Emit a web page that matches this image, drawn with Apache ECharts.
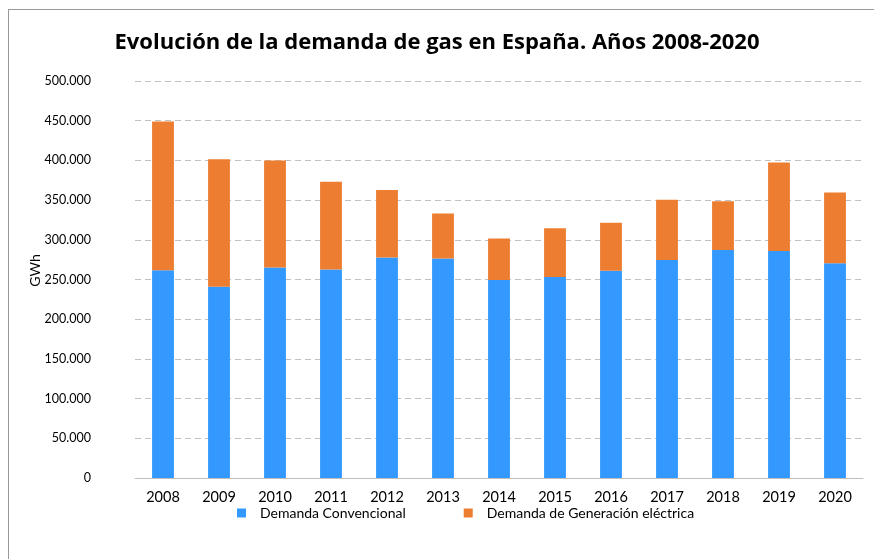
<!DOCTYPE html>
<html>
<head>
<meta charset="utf-8">
<script src="https://cdn.jsdelivr.net/npm/echarts@6/dist/echarts.min.js"></script>
<style>
html,body{margin:0;padding:0;background:#fff;}
#wrap{position:absolute;left:0;top:0;width:874px;height:559px;overflow:hidden;}
#frame{position:absolute;left:8px;top:9px;width:900px;height:600px;border-left:1px solid #999;border-top:1px solid #999;}
#chart{position:absolute;left:0;top:0;width:874px;height:559px;}
</style>
</head>
<body>
<div id="wrap"><div id="frame"></div><div id="chart"></div></div>
<script>
const years = ['2008','2009','2010','2011','2012','2013','2014','2015','2016','2017','2018','2019','2020'];
const totals = [449000, 401600, 400000, 373000, 362600, 333000, 301600, 314400, 321500, 350400, 348700, 397500, 359700];
const convencional = [261700, 241000, 265000, 262600, 277700, 276500, 249300, 253000, 261000, 274700, 287300, 286000, 270500];
const generacion = totals.map((t, i) => t - convencional[i]);
const seriesNames = ['Demanda Convencional', 'Demanda de Generación eléctrica'];
const titleText = 'Evolución de la demanda de gas en España. Años 2008-2020';

const font = 'Lato, "Open Sans", sans-serif';
const chart = echarts.init(document.getElementById('chart'));
chart.setOption({
  animation: false,
  backgroundColor: 'transparent',
  title: {
    text: titleText, left: 'center', top: 27,
    textStyle: {fontFamily: '"Open Sans", sans-serif', fontSize: 22, fontWeight: 'bold', color: '#000'}
  },
  legend: {
    bottom: 34, left: 232, itemWidth: 9, itemHeight: 9, itemGap: 58, icon: 'rect',
    textStyle: {fontFamily: font, fontSize: 14, color: '#000', padding: [0, 0, 0, 9]},
    data: seriesNames
  },
  grid: {left: 135, right: 11, top: 81, bottom: 81},
  xAxis: {
    type: 'category', data: years,
    axisTick: {show: false},
    axisLine: {lineStyle: {color: '#bfbfbf', width: 1}},
    axisLabel: {fontFamily: font, fontSize: 14.5, color: '#000', margin: 12}
  },
  yAxis: {
    type: 'value', min: 0, max: 500000, interval: 50000,
    name: 'GWh', nameLocation: 'middle', nameGap: 93, nameRotate: 90, nameMoveOverlap: false,
    nameTextStyle: {fontFamily: font, fontSize: 14, color: '#000', padding: [0, 0, 0, 18]},
    axisLine: {show: false}, axisTick: {show: false},
    axisLabel: {
      fontFamily: font, fontSize: 12.5, color: '#000', margin: 44,
      formatter: v => v === 0 ? '0' : v.toLocaleString('de-DE')
    },
    splitLine: {lineStyle: {color: '#c0c0c0', type: [6, 4], width: 1}}
  },
  series: [
    {name: seriesNames[0], type: 'bar', stack: 'total', data: convencional, barWidth: '39%',
     itemStyle: {color: '#3399FF'}},
    {name: seriesNames[1], type: 'bar', stack: 'total', data: generacion, barWidth: '39%',
     itemStyle: {color: '#ED7D31'}}
  ]
});
</script>
</body>
</html>
